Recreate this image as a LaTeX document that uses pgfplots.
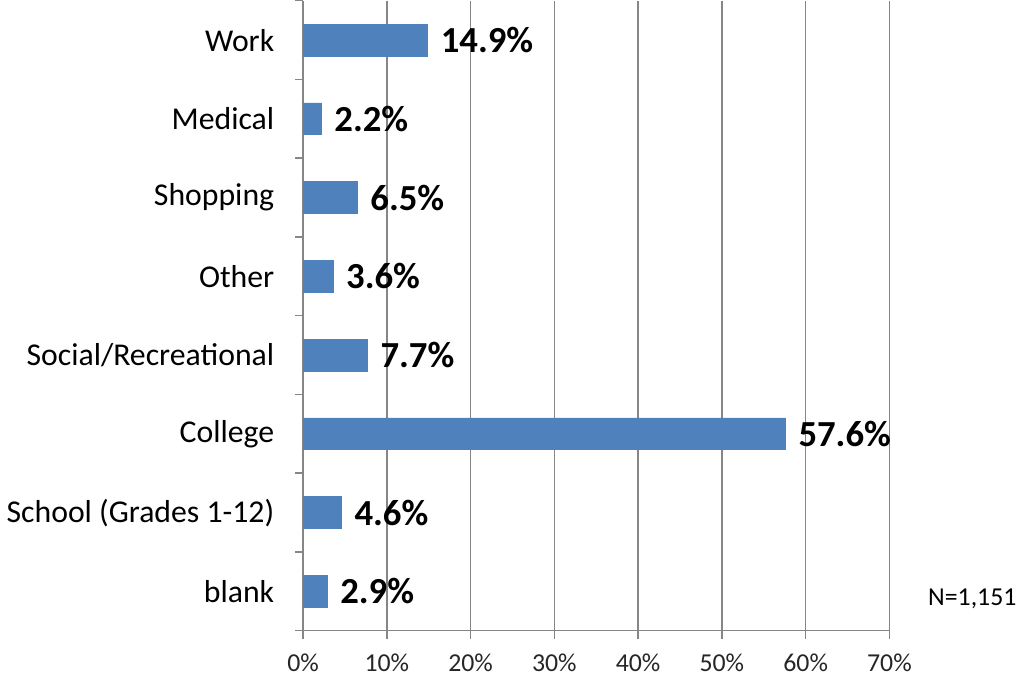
\documentclass[border=0pt]{standalone}
\usepackage{pgfplots}
\pgfplotsset{compat=1.18}
\usepackage{fontspec}
\setmainfont{Carlito}
\definecolor{barblue}{HTML}{4F81BD}
\definecolor{axisgray}{HTML}{868686}
\begin{document}
\begin{tikzpicture}
\begin{axis}[
    xbar,
    scale only axis,
    width=295.5pt,
    height=317.5pt,
    xmin=0, xmax=70,
    ymin=-0.5, ymax=7.5,
    bar width=16pt,
    axis x line*=bottom,
    axis y line*=left,
    axis line style={axisgray, line width=0.75pt, -},
    xtick={0,10,...,70},
    xticklabel={\pgfmathprintnumber{\tick}\%},
    xticklabel style={font=\fontsize{13}{15}\selectfont, text=black!85, yshift=-4pt},
    /pgf/number format/assume math mode=true,
    ytick={0,...,7},
    yticklabels={blank, School (Grades 1-12), College, Social/Recreational, Other, Shopping, Medical, Work},
    yticklabel style={font=\fontsize{16}{18}\selectfont, xshift=-7pt},
    minor ytick={-0.5,0.5,...,7.5},
    tick align=outside,
    major tick length=4pt,
    minor tick length=4pt,
    y tick style={draw=none},
    minor y tick style={draw=axisgray, line width=0.75pt},
    x tick style={draw=axisgray, line width=0.75pt},
    xmajorgrids,
    grid style={axisgray, line width=0.75pt},
    nodes near coords={\pgfmathprintnumber[fixed, fixed zerofill, precision=1]{\pgfplotspointmeta}\%},
    nodes near coords style={font=\fontsize{18.5}{20}\selectfont\bfseries, anchor=west, xshift=3pt},
    point meta=x,
    clip=false,
]
\addplot[fill=barblue, draw=barblue] coordinates {
    (2.9,0) (4.6,1) (57.6,2) (7.7,3) (3.6,4) (6.5,5) (2.2,6) (14.9,7)
};
\node[anchor=west, font=\fontsize{13}{15}\selectfont] at (axis cs:70,-0.1) [xshift=16pt] {N=1,151};
\end{axis}
\end{tikzpicture}
\end{document}
